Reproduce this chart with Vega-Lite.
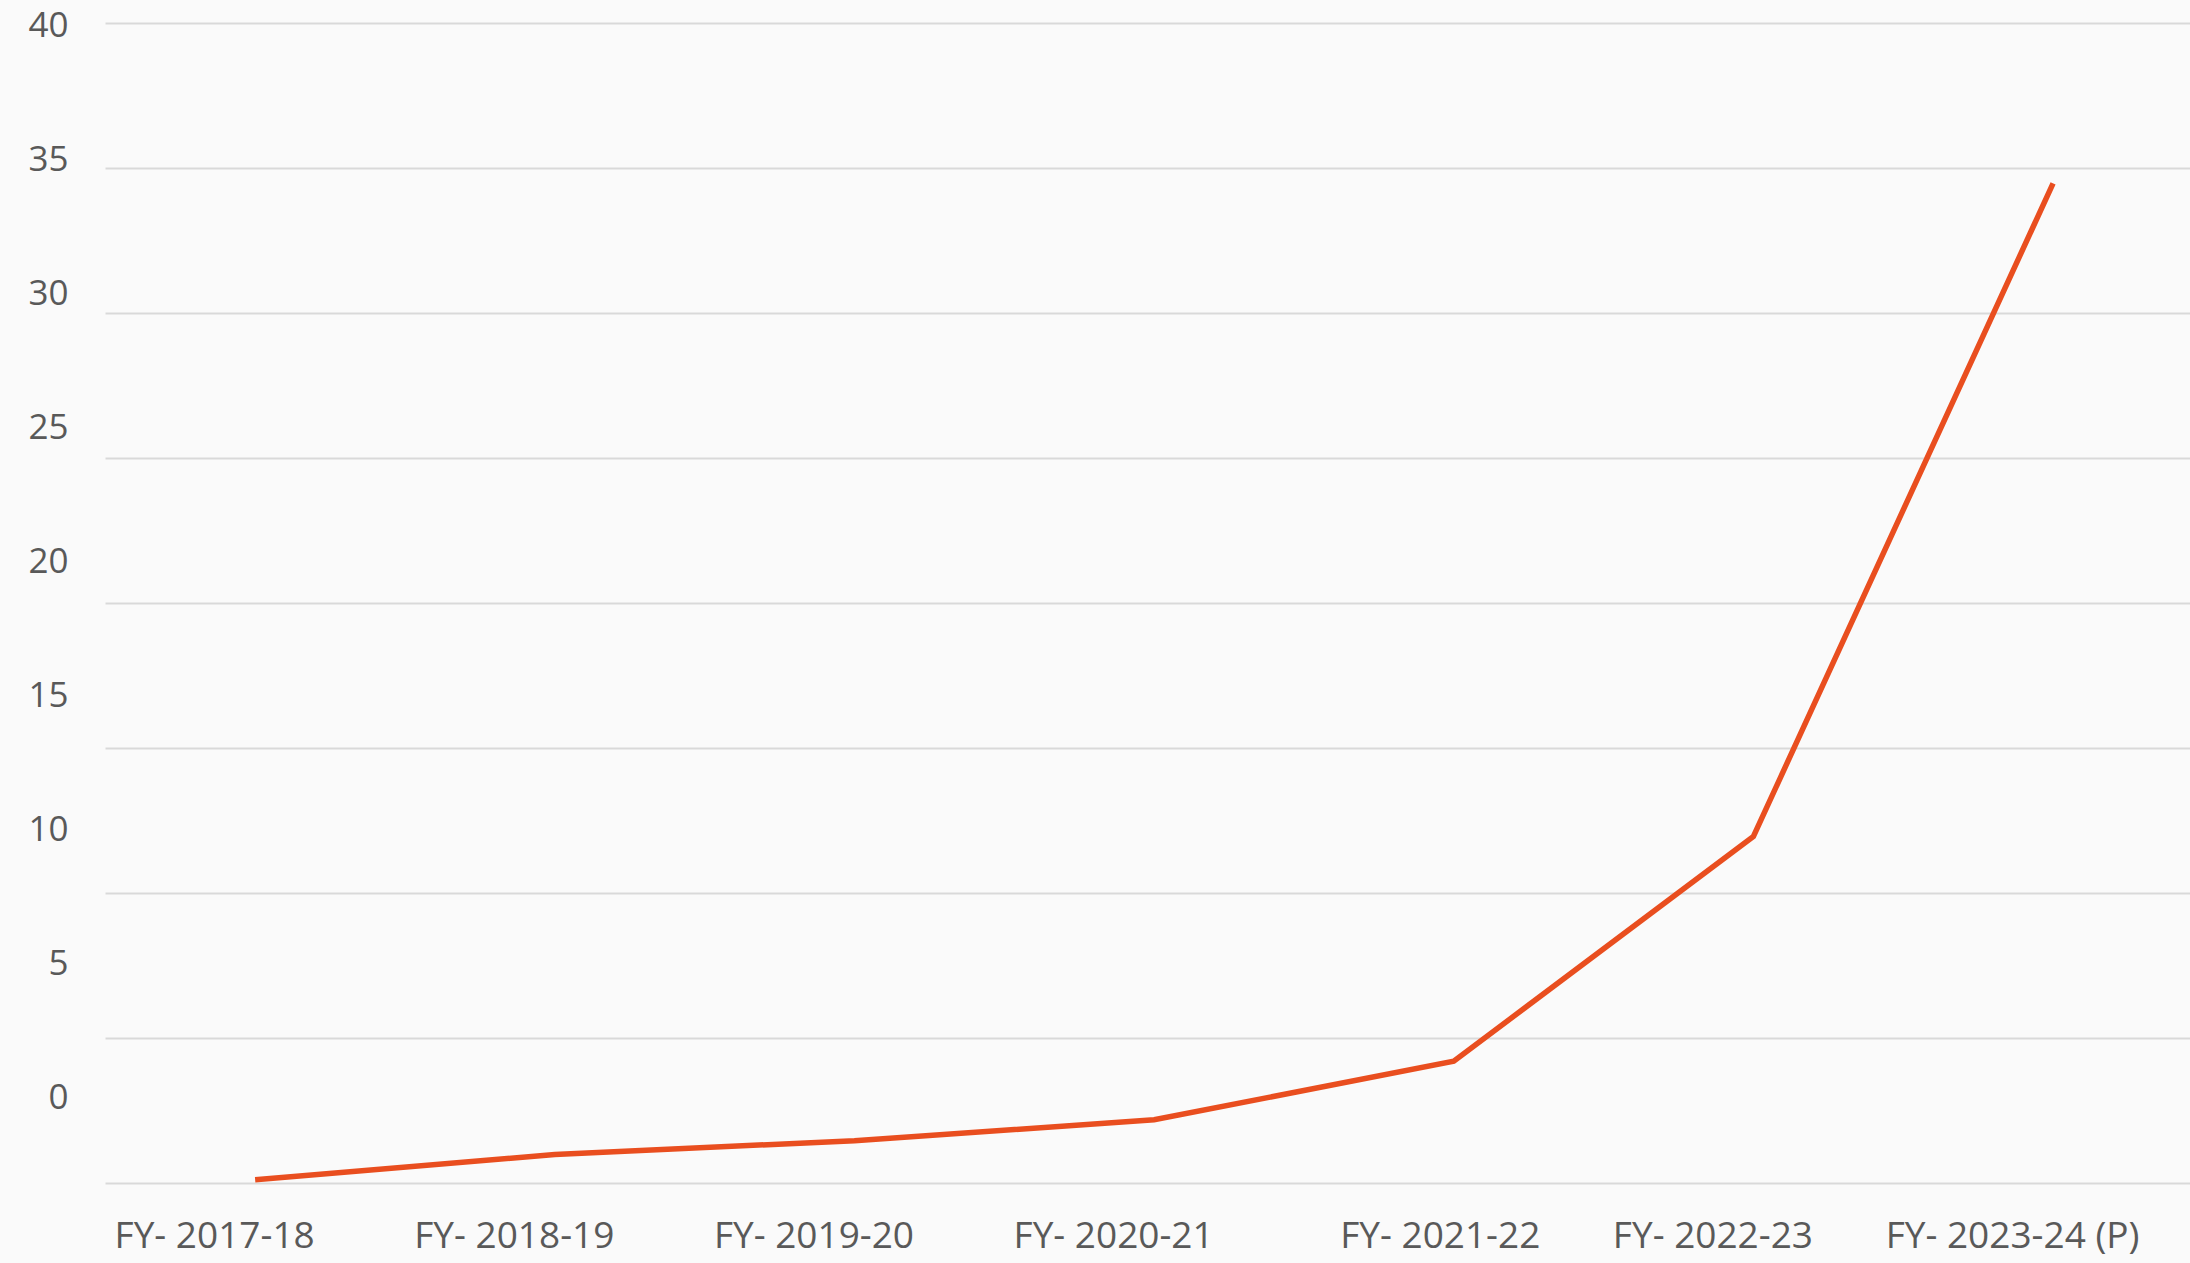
{
  "$schema": "https://vega.github.io/schema/vega-lite/v6.json",
  "width": 2085,
  "height": 1160,
  "autosize": {"type": "none"},
  "padding": {"left": 105, "top": 23, "right": 0, "bottom": 80},
  "background": "#fafafa",
  "config": {"view": {"stroke": null}},
  "data": {
    "values": [
      {"year": "FY- 2017-18", "value": 0.11},
      {"year": "FY- 2018-19", "value": 0.98},
      {"year": "FY- 2019-20", "value": 1.46},
      {"year": "FY- 2020-21", "value": 2.18},
      {"year": "FY- 2021-22", "value": 4.2},
      {"year": "FY- 2022-23", "value": 11.95},
      {"year": "FY- 2023-24 (P)", "value": 34.47}
    ]
  },
  "encoding": {
    "x": {
      "field": "year",
      "type": "ordinal",
      "sort": null,
      "scale": {"type": "point", "padding": 0.479, "align": 0.523},
      "axis": {
        "title": null,
        "domain": false,
        "ticks": false,
        "grid": false,
        "labelAngle": 0,
        "labelFont": "Open Sans",
        "labelFontSize": 37,
        "labelLimit": 0,
        "labelOverlap": false,
        "labelColor": "#595959",
        "labelBaseline": "alphabetic",
        "labelPadding": 64,
        "labelOffset": {"condition": {"test": "datum.value == 'FY- 2021-22'", "value": -14}, "value": -41}
      }
    }
  },
  "layer": [
    {
      "mark": {"type": "line", "color": "#E94E1F", "strokeWidth": 5.5, "strokeCap": "butt"},
      "encoding": {
        "y": {
          "field": "value",
          "type": "quantitative",
          "scale": {"domain": [0, 40], "nice": false, "zero": false},
          "axis": {
            "orient": "right",
            "title": null,
            "labels": false,
            "ticks": false,
            "domain": false,
            "grid": true,
            "gridColor": "#d9d9d9",
            "gridWidth": 2,
            "values": [0, 5, 10, 15, 20, 25, 30, 35, 40]
          }
        }
      }
    },
    {
      "mark": {"type": "point", "opacity": 0},
      "encoding": {
        "y": {
          "field": "value",
          "type": "quantitative",
          "scale": {"domain": [-3.18, 40.09], "nice": false, "zero": false},
          "axis": {
            "orient": "left",
            "title": null,
            "grid": false,
            "ticks": false,
            "domain": false,
            "labelFont": "Open Sans",
            "labelFontSize": 35,
            "labelColor": "#595959",
            "labelPadding": 37,
            "values": [0, 5, 10, 15, 20, 25, 30, 35, 40]
          }
        }
      }
    }
  ],
  "resolve": {"scale": {"y": "independent"}, "axis": {"y": "independent"}}
}
